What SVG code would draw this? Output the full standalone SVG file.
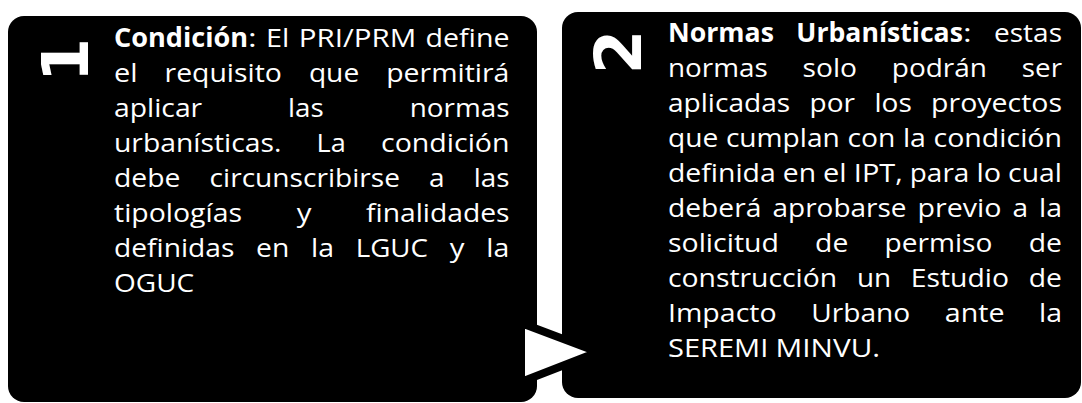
<svg xmlns="http://www.w3.org/2000/svg" width="1082" height="403" viewBox="0 0 1082 403">
<style>
.box{fill:#000}
.t{font-family:"Open Sans","Liberation Sans",sans-serif;font-size:26px;fill:#fff}
.b{font-weight:700}
.num{font-family:"DejaVu Sans",sans-serif;font-weight:700;font-size:64px;fill:#fff}
</style>
<rect width="1082" height="403" fill="#fff"/>
<g id="node1">
<rect class="box" x="8" y="16" width="529" height="386" rx="16"/>
<text class="num" text-anchor="middle" dominant-baseline="central" transform="translate(66,60) rotate(-90)">1</text>
<g class="t" lengthAdjust="spacingAndGlyphs">
<text class="b" x="114" y="47" textLength="134" lengthAdjust="spacingAndGlyphs">Condición</text>
<text x="248" y="47" textLength="8.7" lengthAdjust="spacingAndGlyphs">:</text>
<text x="266.1" y="47" textLength="23.3" lengthAdjust="spacingAndGlyphs">El</text>
<text x="298.8" y="47" textLength="117.4" lengthAdjust="spacingAndGlyphs">PRI/PRM</text>
<text x="425.6" y="47" textLength="83.9" lengthAdjust="spacingAndGlyphs">define</text>
<text x="114" y="82" textLength="23.6" lengthAdjust="spacingAndGlyphs">el</text>
<text x="164.6" y="82" textLength="117.3" lengthAdjust="spacingAndGlyphs">requisito</text>
<text x="308.9" y="82" textLength="50.3" lengthAdjust="spacingAndGlyphs">que</text>
<text x="386.2" y="82" textLength="123.2" lengthAdjust="spacingAndGlyphs">permitirá</text>
<text x="114" y="117" textLength="88.2" lengthAdjust="spacingAndGlyphs">aplicar</text>
<text x="288.1" y="117" textLength="35.7" lengthAdjust="spacingAndGlyphs">las</text>
<text x="409.7" y="117" textLength="99.8" lengthAdjust="spacingAndGlyphs">normas</text>
<text x="114" y="152" textLength="167.4" lengthAdjust="spacingAndGlyphs">urbanísticas.</text>
<text x="316.6" y="152" textLength="29.2" lengthAdjust="spacingAndGlyphs">La</text>
<text x="381" y="152" textLength="128.5" lengthAdjust="spacingAndGlyphs">condición</text>
<text x="114" y="187" textLength="66.5" lengthAdjust="spacingAndGlyphs">debe</text>
<text x="209.6" y="187" textLength="190.4" lengthAdjust="spacingAndGlyphs">circunscribirse</text>
<text x="429.1" y="187" textLength="15.6" lengthAdjust="spacingAndGlyphs">a</text>
<text x="473.8" y="187" textLength="35.7" lengthAdjust="spacingAndGlyphs">las</text>
<text x="114" y="222" textLength="128.1" lengthAdjust="spacingAndGlyphs">tipologías</text>
<text x="296.7" y="222" textLength="14.7" lengthAdjust="spacingAndGlyphs">y</text>
<text x="366" y="222" textLength="143.5" lengthAdjust="spacingAndGlyphs">finalidades</text>
<text x="114" y="257" textLength="120.4" lengthAdjust="spacingAndGlyphs">definidas</text>
<text x="256.1" y="257" textLength="33.2" lengthAdjust="spacingAndGlyphs">en</text>
<text x="311" y="257" textLength="23" lengthAdjust="spacingAndGlyphs">la</text>
<text x="355.7" y="257" textLength="72.3" lengthAdjust="spacingAndGlyphs">LGUC</text>
<text x="449.7" y="257" textLength="14.7" lengthAdjust="spacingAndGlyphs">y</text>
<text x="486.3" y="257" textLength="23" lengthAdjust="spacingAndGlyphs">la</text>
<text x="114" y="292" textLength="80.2" lengthAdjust="spacingAndGlyphs">OGUC</text>
</g>
</g>
<g id="node2">
<rect class="box" x="562" y="12" width="519" height="386" rx="16"/>
<text class="num" text-anchor="middle" dominant-baseline="central" transform="translate(619,52) rotate(-90)">2</text>
<g class="t">
<text class="b" x="668" y="42" textLength="105.9" lengthAdjust="spacingAndGlyphs">Normas</text>
<text class="b" x="796.3" y="42" textLength="166.6" lengthAdjust="spacingAndGlyphs">Urbanísticas</text>
<text x="962.9" y="42" textLength="8.7" lengthAdjust="spacingAndGlyphs">:</text>
<text x="994" y="42" textLength="68" lengthAdjust="spacingAndGlyphs">estas</text>
<text x="668" y="77" textLength="99.8" lengthAdjust="spacingAndGlyphs">normas</text>
<text x="802.6" y="77" textLength="54.4" lengthAdjust="spacingAndGlyphs">solo</text>
<text x="891.8" y="77" textLength="95.2" lengthAdjust="spacingAndGlyphs">podrán</text>
<text x="1021.8" y="77" textLength="40.2" lengthAdjust="spacingAndGlyphs">ser</text>
<text x="668" y="112" textLength="122.2" lengthAdjust="spacingAndGlyphs">aplicadas</text>
<text x="809.6" y="112" textLength="45.5" lengthAdjust="spacingAndGlyphs">por</text>
<text x="874.5" y="112" textLength="37.3" lengthAdjust="spacingAndGlyphs">los</text>
<text x="931.1" y="112" textLength="130.9" lengthAdjust="spacingAndGlyphs">proyectos</text>
<text x="668" y="147" textLength="50.3" lengthAdjust="spacingAndGlyphs">que</text>
<text x="725.9" y="147" textLength="113.9" lengthAdjust="spacingAndGlyphs">cumplan</text>
<text x="847.4" y="147" textLength="47.9" lengthAdjust="spacingAndGlyphs">con</text>
<text x="902.9" y="147" textLength="23" lengthAdjust="spacingAndGlyphs">la</text>
<text x="933.5" y="147" textLength="128.5" lengthAdjust="spacingAndGlyphs">condición</text>
<text x="668" y="182" textLength="107.7" lengthAdjust="spacingAndGlyphs">definida</text>
<text x="782.8" y="182" textLength="33.2" lengthAdjust="spacingAndGlyphs">en</text>
<text x="823.1" y="182" textLength="23.6" lengthAdjust="spacingAndGlyphs">el</text>
<text x="853.8" y="182" textLength="48.9" lengthAdjust="spacingAndGlyphs">IPT,</text>
<text x="909.8" y="182" textLength="59.5" lengthAdjust="spacingAndGlyphs">para</text>
<text x="976.4" y="182" textLength="24.6" lengthAdjust="spacingAndGlyphs">lo</text>
<text x="1008.1" y="182" textLength="53.8" lengthAdjust="spacingAndGlyphs">cual</text>
<text x="668" y="217" textLength="93.4" lengthAdjust="spacingAndGlyphs">deberá</text>
<text x="772.5" y="217" textLength="134" lengthAdjust="spacingAndGlyphs">aprobarse</text>
<text x="917.5" y="217" textLength="83.9" lengthAdjust="spacingAndGlyphs">previo</text>
<text x="1012.4" y="217" textLength="15.6" lengthAdjust="spacingAndGlyphs">a</text>
<text x="1039" y="217" textLength="23" lengthAdjust="spacingAndGlyphs">la</text>
<text x="668" y="252" textLength="110.9" lengthAdjust="spacingAndGlyphs">solicitud</text>
<text x="815.1" y="252" textLength="33.2" lengthAdjust="spacingAndGlyphs">de</text>
<text x="884.5" y="252" textLength="107.8" lengthAdjust="spacingAndGlyphs">permiso</text>
<text x="1028.8" y="252" textLength="33.2" lengthAdjust="spacingAndGlyphs">de</text>
<text x="668" y="287" textLength="169.1" lengthAdjust="spacingAndGlyphs">construcción</text>
<text x="856.9" y="287" textLength="34.1" lengthAdjust="spacingAndGlyphs">un</text>
<text x="910.8" y="287" textLength="98.2" lengthAdjust="spacingAndGlyphs">Estudio</text>
<text x="1028.8" y="287" textLength="33.2" lengthAdjust="spacingAndGlyphs">de</text>
<text x="668" y="322" textLength="108.6" lengthAdjust="spacingAndGlyphs">Impacto</text>
<text x="811.2" y="322" textLength="99" lengthAdjust="spacingAndGlyphs">Urbano</text>
<text x="944.8" y="322" textLength="59.7" lengthAdjust="spacingAndGlyphs">ante</text>
<text x="1039.1" y="322" textLength="23" lengthAdjust="spacingAndGlyphs">la</text>
<text x="668" y="357" textLength="100.3" lengthAdjust="spacingAndGlyphs">SEREMI</text>
<text x="775.6" y="357" textLength="104.5" lengthAdjust="spacingAndGlyphs">MINVU.</text>
</g>
</g>
<g id="connectors">
<polygon points="521,323 521,382 598,352" fill="#fff" stroke="#000" stroke-width="8" stroke-linejoin="miter"/>
</g>
</svg>
